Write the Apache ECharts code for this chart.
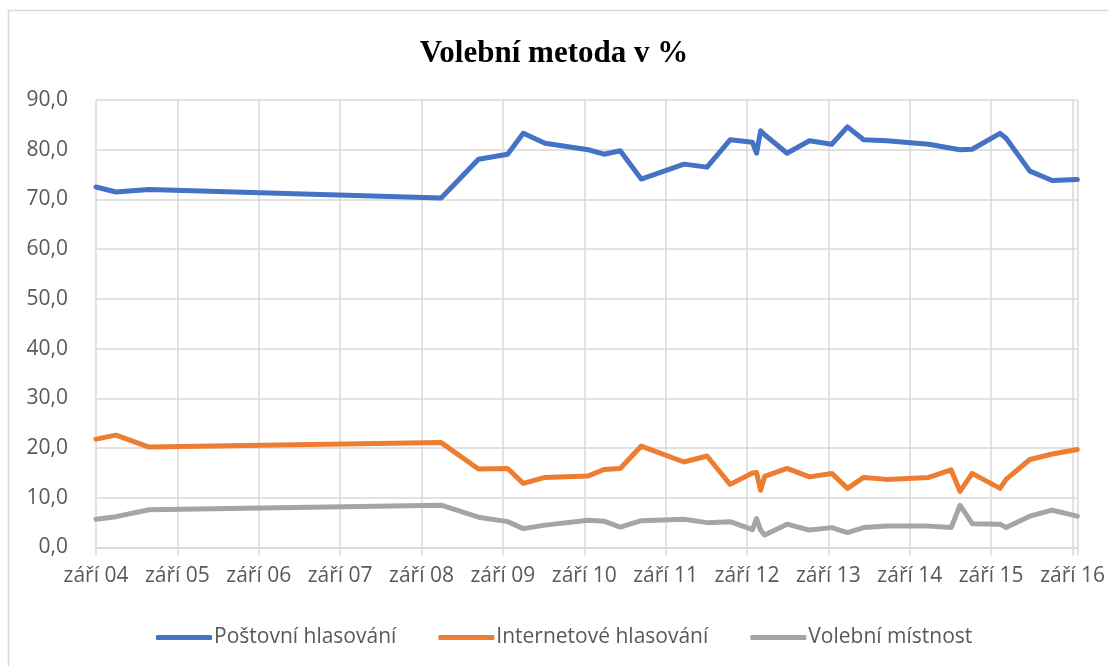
<!DOCTYPE html>
<html>
<head>
<meta charset="utf-8">
<script src="https://cdn.jsdelivr.net/npm/echarts@6/dist/echarts.min.js"></script>
<style>
  html, body { margin: 0; padding: 0; background: #fff; }
  #chart { width: 1108px; height: 666px; }
</style>
</head>
<body>
<div id="chart"></div>
<script>
  // months since září 2004
  const months = [0, 2.94, 7.82, 50.9, 56.4, 60.7, 63.0, 66.2, 72.6, 74.9, 77.3, 80.4,
    86.7, 90.1, 93.5, 96.8, 97.4, 98.0, 98.6, 101.9, 105.2, 108.5, 110.8, 113.2,
    116.6, 122.8, 126.1, 127.4, 129.2, 133.3, 134.2, 137.7, 141.0, 144.7];

  const postal = [72.5, 71.5, 72.0, 70.3, 78.1, 79.1, 83.3, 81.3, 80.0, 79.1, 79.8, 74.1,
    77.1, 76.5, 82.0, 81.5, 79.3, 83.8, 83.0, 79.3, 81.8, 81.1, 84.6, 82.0,
    81.8, 81.1, 80.3, 80.0, 80.1, 83.3, 82.3, 75.7, 73.8, 74.0];

  const internet = [21.8, 22.6, 20.2, 21.1, 15.8, 15.9, 12.9, 14.1, 14.4, 15.7, 15.9, 20.4,
    17.2, 18.4, 12.7, 15.0, 15.1, 11.5, 14.3, 15.9, 14.2, 14.9, 11.9, 14.1,
    13.7, 14.1, 15.6, 11.3, 14.9, 11.9, 13.7, 17.7, 18.8, 19.7];

  const booth = [5.7, 6.2, 7.6, 8.5, 6.1, 5.2, 3.8, 4.5, 5.5, 5.3, 4.1, 5.4,
    5.7, 5.0, 5.2, 3.6, 5.8, 3.5, 2.5, 4.7, 3.5, 4.0, 3.0, 4.0,
    4.3, 4.3, 4.0, 8.5, 4.8, 4.7, 4.0, 6.3, 7.5, 6.3];

  const seriesNames = ['Poštovní hlasování', 'Internetové hlasování', 'Volební místnost'];
  const seriesColors = ['#4472C4', '#ED7D31', '#A5A5A5'];

  const font = '"Open Sans", "Noto Sans", sans-serif';
  const toPairs = (vals) => vals.map((v, i) => [months[i], v]);

  const chart = echarts.init(document.getElementById('chart'));

  chart.setOption({
    animation: false,
    title: {
      text: 'Volební metoda v %',
      left: 'center',
      top: 33,
      textStyle: {
        fontFamily: '"Liberation Serif", "Times New Roman", serif',
        fontWeight: 'bold',
        fontSize: 31,
        color: '#000',
      },
    },
    graphic: [
      {
        type: 'rect',
        shape: { x: 8.5, y: 10.5, width: 1200, height: 700 },
        style: { fill: 'none', stroke: '#d9d9d9', lineWidth: 1.5 },
        silent: true,
      },
    ],
    legend: {
      left: 151,
      top: 622,
      itemWidth: 56,
      itemHeight: 5,
      itemGap: 42,
      icon: 'roundRect',
      textStyle: { fontFamily: font, fontSize: 21, color: '#595959', padding: [0, 0, 0, -3] },
      data: seriesNames,
    },
    grid: {
      left: 96,
      right: 1108 - 1082,
      top: 100,
      bottom: 666 - 547.5,
      containLabel: false,
    },
    xAxis: {
      type: 'value',
      min: 0,
      max: 144.7,
      interval: 12,
      axisLine: { show: true, lineStyle: { color: '#d9d9d9', width: 1.5 } },
      axisTick: { show: true, length: 8, lineStyle: { color: '#d9d9d9', width: 1.5 } },
      axisLabel: {
        margin: 18,
        fontFamily: font,
        fontSize: 21,
        color: '#595959',
        formatter: (v) => {
          if (Math.abs(v % 12) > 0.001) return '';
          const yy = 4 + v / 12;
          return 'září ' + (yy < 10 ? '0' + yy : yy);
        },
      },
      splitLine: { show: true, lineStyle: { color: '#d9d9d9', width: 1.5 } },
    },
    yAxis: {
      type: 'value',
      min: 0,
      max: 90,
      interval: 10,
      axisLine: { show: false },
      axisTick: { show: false },
      axisLabel: {
        margin: 28,
        fontFamily: font,
        fontSize: 21,
        color: '#595959',
        formatter: (v) => v.toFixed(1).replace('.', ','),
      },
      splitLine: { show: true, lineStyle: { color: '#d9d9d9', width: 1.5 } },
    },
    series: [postal, internet, booth].map((vals, i) => ({
      name: seriesNames[i],
      type: 'line',
      data: toPairs(vals),
      showSymbol: false,
      symbol: 'none',
      color: seriesColors[i],
      lineStyle: { width: 5, color: seriesColors[i], join: 'round', cap: 'round' },
    })),
  });
</script>
</body>
</html>
